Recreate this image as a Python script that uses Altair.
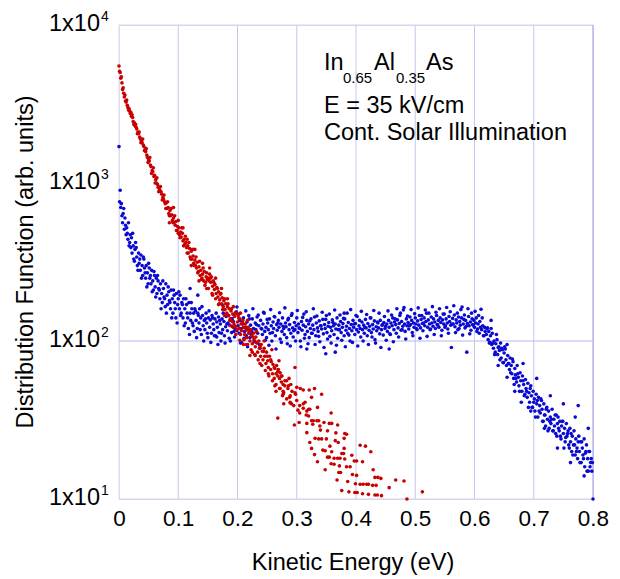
import altair as alt
import pandas as pd

# ---------------- data (energy in meV, distribution in arb. units) ----------------
blue_points = [
    (0, 1700), (1, 760), (3, 700), (4, 740), (6, 560), (7, 640), (9, 510), (10, 600), (12, 470), (13, 520),
    (15, 440), (16, 560), (18, 420), (19, 470), (20, 390), (21, 450), (22, 360), (24, 400), (25, 330), (27, 380),
    (28, 420), (30, 340), (31, 300), (33, 360), (34, 310), (36, 280), (37, 350), (39, 300), (40, 260), (42, 330),
    (43, 290), (45, 250), (46, 300), (48, 270), (49, 230), (51, 290), (52, 250), (54, 230), (55, 280), (57, 240),
    (58, 210), (60, 260), (61, 220), (63, 250), (64, 200), (66, 240), (67, 215), (69, 185), (70, 230), (72, 200),
    (73, 175), (75, 215), (76, 190), (78, 165), (79, 230), (81, 195), (82, 170), (84, 205), (85, 180), (87, 160),
    (88, 210), (90, 185), (91, 150), (93, 195), (94, 175), (96, 140), (97, 200), (99, 170), (100, 185),
    (102, 160), (103, 195), (105, 150), (106, 175), (108, 140), (109, 185), (111, 160), (112, 130), (114, 170),
    (115, 150), (117, 120), (118, 175), (120, 150), (121, 135), (123, 160), (124, 130), (126, 150), (127, 115),
    (129, 155), (130, 135), (132, 120), (133, 150), (135, 130), (136, 160), (138, 140), (139, 110), (141, 145),
    (142, 125), (144, 135), (145, 118), (147, 150), (148, 130), (150, 105), (151, 140), (153, 122), (154, 136),
    (156, 112), (157, 145), (159, 128), (160, 118), (162, 138), (163, 108), (165, 132), (166, 122), (168, 142),
    (169, 113), (171, 128), (172, 100), (174, 138), (175, 118), (177, 133), (178, 108), (180, 123), (181, 143),
    (183, 116), (184, 130), (186, 104), (187, 126), (189, 138), (190, 113), (192, 123), (193, 133), (195, 106),
    (196, 120), (198, 153), (199, 116), (133, 195), (120, 215), (174, 170), (199, 164), (165, 106),
    (201, 125), (203, 112), (204, 135), (206, 120), (207, 98), (209, 128), (210, 140), (212, 115), (213, 122),
    (215, 108), (216, 132), (218, 118), (219, 145), (221, 105), (222, 126), (224, 115), (225, 138), (227, 120),
    (228, 100), (230, 130), (231, 118), (233, 142), (234, 112), (236, 125), (237, 95), (239, 135), (240, 120),
    (242, 110), (243, 128), (245, 150), (246, 115), (248, 122), (249, 105), (251, 130), (252, 118), (254, 138),
    (255, 112), (257, 125), (258, 100), (260, 132), (261, 120), (263, 142), (264, 108), (266, 127), (267, 117),
    (269, 135), (270, 122), (272, 103), (273, 128), (275, 115), (276, 140), (278, 120), (279, 110), (281, 130),
    (282, 123), (284, 96), (285, 136), (287, 118), (288, 127), (290, 112), (291, 145), (293, 121), (294, 106),
    (296, 131), (297, 118), (299, 125), (300, 140), (302, 113), (303, 128), (305, 120), (306, 100), (308, 133),
    (309, 117), (311, 126), (312, 148), (314, 110), (315, 123), (317, 135), (318, 115), (320, 128), (321, 105),
    (323, 120), (324, 138), (326, 112), (327, 126), (329, 118), (330, 142), (332, 108), (333, 130), (335, 121),
    (336, 115), (338, 134), (339, 99), (341, 125), (342, 119), (344, 137), (345, 111), (347, 127), (348, 120),
    (350, 145), (351, 113), (353, 124), (354, 131), (356, 107), (357, 122), (359, 116), (360, 136), (362, 125),
    (363, 110), (365, 128), (366, 119), (368, 140), (369, 104), (371, 126), (372, 118), (374, 133), (375, 113),
    (377, 122), (378, 129), (380, 108), (381, 138), (383, 117), (384, 124), (386, 112), (387, 131), (389, 120),
    (390, 100), (392, 127), (393, 116), (395, 135), (396, 122), (398, 110), (399, 129), (401, 118), (402, 143),
    (404, 114), (405, 125), (407, 120), (408, 106), (410, 132), (411, 118), (413, 126), (414, 112), (416, 137),
    (417, 121), (419, 108), (420, 129), (422, 117), (423, 124), (425, 140), (426, 113), (428, 127), (429, 119),
    (431, 134), (432, 102), (434, 123), (435, 116), (437, 130), (438, 121), (440, 111), (441, 135), (443, 118),
    (444, 126), (446, 109), (447, 131), (449, 120), (450, 124), (317, 89), (349, 83), (365, 85), (456, 89),
    (380, 150),
    (452, 128), (453, 115), (455, 135), (456, 122), (458, 110), (459, 130), (461, 125), (462, 140), (464, 118),
    (465, 132), (467, 127), (468, 112), (470, 136), (471, 121), (473, 129), (474, 145), (476, 117), (477, 133),
    (479, 124), (480, 157), (482, 128), (483, 115), (485, 138), (486, 125), (488, 131), (489, 119), (491, 142),
    (492, 127), (494, 135), (495, 113), (497, 130), (498, 122), (500, 140), (501, 128), (503, 118), (504, 134),
    (506, 126), (507, 145), (509, 121), (510, 137), (512, 129), (513, 116), (515, 140), (516, 125), (518, 133),
    (519, 150), (521, 122), (522, 136), (524, 128), (525, 118), (527, 142), (528, 130), (530, 124), (531, 138),
    (533, 132), (534, 120), (536, 145), (537, 127), (539, 135), (540, 122), (542, 140), (543, 131), (545, 117),
    (546, 136), (548, 128), (549, 148), (551, 125), (552, 138), (554, 130), (555, 119), (557, 143), (558, 133),
    (560, 126), (561, 91), (563, 139), (564, 128), (566, 146), (567, 123), (569, 136), (570, 130), (572, 118),
    (573, 142), (575, 133), (576, 126), (578, 140), (579, 164), (581, 128), (582, 137), (584, 121), (585, 135),
    (587, 85), (588, 129), (590, 143), (591, 125), (593, 132), (594, 117), (596, 138), (597, 127), (599, 135),
    (600, 122), (602, 130), (603, 140), (605, 119), (606, 128), (608, 112), (609, 133), (611, 159), (612, 118),
    (614, 125), (615, 108), (617, 122), (618, 115),
    (620, 110), (621, 120), (623, 102), (624, 115), (626, 98), (627, 108), (629, 95), (630, 112), (632, 90),
    (633, 100), (635, 85), (636, 96), (638, 102), (639, 82), (641, 92), (642, 87), (644, 97), (645, 78),
    (647, 88), (648, 73), (650, 84), (651, 92), (653, 76), (654, 70), (656, 81), (657, 72), (659, 66), (660, 78),
    (662, 70), (663, 62), (665, 74), (666, 58), (668, 67), (669, 61), (671, 55), (672, 70), (674, 59), (675, 52),
    (677, 63), (678, 56), (680, 48), (681, 60), (683, 53), (684, 45), (686, 57), (687, 50), (689, 44), (690, 54),
    (692, 47), (693, 41), (695, 52), (696, 45), (698, 38), (699, 48), (701, 43), (702, 36), (704, 46), (705, 40),
    (707, 33), (708, 44), (710, 39), (711, 35), (713, 42), (714, 37), (716, 31), (717, 40), (719, 34), (720, 29),
    (722, 38), (723, 32), (725, 36), (726, 28), (728, 33), (729, 30), (731, 37), (732, 27), (734, 32), (735, 29),
    (737, 26), (738, 34), (740, 30), (741, 33), (743, 27), (744, 31), (746, 24), (747, 29), (749, 31), (750, 26),
    (752, 28), (753, 23), (755, 30), (756, 25), (758, 27), (759, 22), (761, 28), (762, 23), (764, 20), (765, 25),
    (767, 22), (768, 27), (770, 19), (771, 24), (773, 21), (774, 18), (775, 39), (776, 25), (777, 20), (779, 23),
    (780, 17), (782, 21), (783, 19), (785, 24), (786, 16), (788, 20), (789, 22), (791, 18), (792, 15), (794, 20),
    (795, 16), (797, 18), (798, 15), (800, 10),
]

# a second, interleaved run of the blue data (wider scatter)
blue_points_run2 = [
    (2, 900), (5, 620), (8, 690), (11, 540), (14, 480), (17, 400), (23, 480), (26, 320), (29, 390), (32, 280),
    (35, 330), (38, 250), (41, 340), (44, 270), (47, 220), (50, 310), (53, 260), (56, 205), (59, 275), (62, 190),
    (65, 260), (68, 210), (71, 160), (74, 240), (77, 185), (80, 150), (83, 220), (86, 175), (89, 140), (92, 210),
    (95, 160), (98, 130), (101, 205), (104, 145), (107, 170), (110, 125), (113, 185), (116, 140), (119, 110),
    (122, 175), (125, 125), (128, 160), (131, 105), (134, 145), (137, 118), (140, 165), (143, 100), (146, 138),
    (149, 112), (152, 155), (155, 98), (158, 140), (161, 108), (164, 150), (167, 95), (170, 135), (173, 112),
    (176, 150), (179, 97), (182, 128), (185, 145), (188, 100), (191, 138), (194, 115), (197, 150),
    (202, 148), (205, 97), (208, 133), (211, 104), (214, 155), (217, 92), (220, 138), (223, 110), (226, 160),
    (229, 99), (232, 127), (235, 146), (238, 90), (241, 119), (244, 152), (247, 101), (250, 137), (253, 94),
    (256, 158), (259, 113), (262, 143), (265, 89), (268, 130), (271, 151), (274, 98), (277, 124), (280, 162),
    (283, 105), (286, 139), (289, 93), (292, 149), (295, 116), (298, 100), (301, 156), (304, 121), (307, 92),
    (310, 141), (313, 104), (316, 153), (319, 96), (322, 134), (325, 112), (328, 160), (331, 95), (334, 144),
    (337, 107), (340, 125), (343, 152), (346, 91), (349, 137), (352, 103), (355, 148), (358, 97), (361, 131),
    (364, 157), (367, 94), (370, 118), (373, 146), (376, 101), (379, 139), (382, 92), (385, 150), (388, 109),
    (391, 158), (394, 98), (397, 128), (400, 145), (403, 93), (406, 135), (409, 154), (412, 100), (415, 122),
    (418, 147), (421, 95), (424, 140), (427, 106), (430, 156), (433, 97), (436, 132), (439, 150), (442, 91),
    (445, 127), (448, 143), (451, 101), (454, 155), (457, 111), (460, 146), (463, 99), (466, 138), (469, 160),
    (472, 106), (475, 150), (478, 118), (481, 163), (484, 103), (487, 144), (490, 125), (493, 158), (496, 108),
    (499, 149), (502, 120), (505, 162), (508, 104), (511, 145), (514, 130), (517, 157), (520, 107), (523, 150),
    (526, 119), (529, 165), (532, 110), (535, 152), (538, 126), (541, 160), (544, 108), (547, 148), (550, 122),
    (553, 163), (556, 112), (559, 153), (562, 128), (565, 167), (568, 113), (571, 150), (574, 120), (577, 158),
    (580, 109), (583, 146), (586, 124), (589, 160), (592, 111), (595, 150), (598, 126), (601, 154), (604, 115),
    (607, 145), (610, 122), (613, 140), (616, 108),
    (622, 121), (625, 97), (628, 120), (631, 97), (634, 82), (637, 110), (640, 91), (643, 76), (646, 90),
    (649, 73), (652, 89), (655, 59), (658, 72), (661, 63), (664, 77), (667, 53), (670, 58), (673, 62), (676, 48),
    (679, 41), (682, 56), (685, 46), (688, 48), (691, 38), (694, 50), (697, 38), (700, 41), (703, 33), (706, 42),
    (709, 36), (712, 43), (715, 31), (718, 34), (721, 37), (724, 27), (727, 31), (730, 32), (733, 27), (736, 34),
    (739, 25), (742, 28), (745, 25), (748, 31), (751, 21), (754, 24.5), (757, 26), (760, 21), (763, 26), (766, 19),
    (769, 22), (772, 20), (775, 23), (778, 17), (781, 23), (784, 18), (787, 19.5), (790, 15), (793, 20), (796, 17),
    (799, 17),
    (628, 135), (640, 70), (655, 95), (668, 48), (682, 72), (695, 36), (705, 58), (718, 28), (728, 45),
    (740, 21), (750, 40), (762, 17), (770, 33), (785, 14), (792, 28),
]

red_points = [
    (0, 5500), (2, 5000), (3, 4600), (5, 4300), (6, 3900), (8, 3700), (9, 3500), (11, 3300), (12, 3250),
    (14, 3100), (15, 3000), (17, 2950), (18, 2850), (20, 2800), (21, 2650), (23, 2600), (24, 2450), (26, 2400),
    (27, 2300), (29, 2250), (30, 2200), (32, 2100), (33, 2050), (35, 1950), (36, 1900), (38, 1850), (39, 1800),
    (41, 1740), (42, 1700), (44, 1620), (45, 1580), (47, 1500), (48, 1450), (50, 1400), (51, 1380), (53, 1300),
    (54, 1270), (56, 1200), (57, 1180), (59, 1100), (60, 1120), (62, 1050), (63, 1000), (65, 980), (66, 940),
    (68, 920), (69, 900), (71, 880), (72, 850), (74, 810), (75, 790), (77, 760), (78, 740), (80, 750), (81, 690),
    (83, 700), (84, 640), (86, 670), (87, 620), (89, 630), (90, 580), (92, 600), (93, 560), (95, 540), (96, 570),
    (98, 500), (99, 530), (101, 520), (102, 470), (104, 490), (105, 455), (107, 480), (108, 430), (110, 440),
    (111, 410), (113, 420), (114, 390), (116, 400), (117, 360), (119, 385), (120, 340), (122, 370), (123, 330),
    (125, 345), (126, 310), (128, 325), (129, 300), (131, 290), (132, 315), (134, 275), (135, 295), (137, 260),
    (138, 280), (140, 250), (141, 265), (143, 240), (144, 275), (146, 235), (147, 255), (149, 245),
    (150, 250), (152, 240), (153, 265), (155, 235), (156, 255), (158, 222), (159, 240), (161, 212), (162, 228),
    (164, 200), (165, 218), (167, 190), (168, 205), (170, 182), (171, 198), (173, 172), (174, 188), (176, 165),
    (177, 180), (179, 158), (180, 172), (182, 150), (183, 165), (185, 145), (186, 160), (188, 138), (189, 155),
    (191, 133), (192, 148), (194, 128), (195, 143), (197, 124), (198, 150), (200, 132), (201, 145), (203, 120),
    (204, 138), (206, 128), (207, 116), (209, 135), (210, 122), (212, 110), (213, 128), (215, 118), (216, 105),
    (218, 122), (219, 112), (221, 100), (222, 118), (224, 108), (225, 96), (227, 112), (228, 102), (230, 92),
    (231, 106), (233, 97), (234, 85), (236, 100), (237, 90), (239, 80), (240, 95), (242, 86), (243, 76),
    (245, 90), (246, 80), (248, 72), (249, 85), (251, 75), (252, 68), (254, 80), (256, 66), (257, 74), (259, 62),
    (260, 71), (262, 58), (263, 67), (204, 101), (215, 95), (221, 81), (230, 81),
    (265, 62), (266, 70), (268, 60), (269, 66), (271, 58), (272, 63), (274, 55), (275, 60), (277, 53), (280, 52),
    (283, 56), (285, 50), (287, 58), (290, 53), (297, 68),
    (265, 48), (272, 50), (277, 48), (278, 47), (289, 45), (288, 44), (297, 47), (300, 51), (306, 50), (311, 49),
    (321, 49), (330, 50), (342, 46), (278, 40), (289, 40.5), (291, 40), (300, 42), (305, 39), (311, 40),
    (314, 41), (325, 44), (335, 38), (302, 36.5), (305, 35), (311, 37.5), (317, 36), (320, 37), (322, 37),
    (316, 34), (320, 33.5), (358, 35), (268, 32.5), (296, 29.4), (304, 30.5), (317, 30.1), (325, 31.3),
    (328, 31.3), (334, 31.3), (337, 31.3), (327, 29.7), (339, 29), (346, 30.5), (355, 30.1), (359, 30.1),
    (369, 29.4), (340, 27.3), (352, 27), (366, 26.2), (381, 26), (384, 25.7), (317, 26.3), (331, 24.2),
    (337, 24), (342, 24), (350, 24), (365, 23.4), (370, 22.8), (380, 24.2), (322, 22.8), (356, 21.6),
    (325, 20.9), (344, 20.4), (348, 20.2), (359, 19.9), (376, 19.4), (379, 19.4), (380, 20.9), (407, 21.9),
    (416, 21.6), (425, 19.9), (330, 19.1), (352, 18.4), (355, 18.4), (363, 18.1), (369, 18.1), (373, 18.1),
    (381, 17.9), (393, 18.9), (397, 17.4), (401, 17.4), (411, 17.2), (335, 17.2), (358, 16.7), (363, 16.6),
    (372, 16.2), (384, 16), (390, 16), (348, 15.3), (371, 14.7), (374, 14.7), (394, 14.3), (401, 14.1),
    (429, 15.3), (432, 13.7), (437, 13.7), (442, 13.5), (467, 13.2), (481, 13), (368, 13.2), (386, 12.9),
    (399, 12.5), (407, 12.4), (412, 12.4), (418, 12.4), (421, 12.4), (428, 12.2), (434, 12.2), (376, 11.3),
    (388, 11.1), (398, 11), (402, 11), (411, 10.8), (421, 10.7), (432, 10.6), (436, 10.6), (443, 10.5),
    (456, 11.8), (486, 10), (512, 11.1),
]

# a second, interleaved run of the red data
red_points_run2 = [
    (1, 5100), (4, 4700), (7, 4000), (10, 3600), (13, 3350), (16, 2900), (19, 2750), (22, 2700), (25, 2350),
    (28, 2350), (31, 2050), (34, 2100), (37, 1800), (40, 1900), (43, 1600), (46, 1650), (49, 1350), (52, 1450),
    (55, 1150), (58, 1250), (61, 1000), (64, 1080), (67, 880), (70, 950), (73, 780), (76, 840), (79, 690),
    (82, 760), (85, 620), (88, 690), (91, 560), (94, 620), (97, 500), (100, 580), (103, 450), (106, 520),
    (109, 400), (112, 460), (115, 360), (118, 420), (121, 330), (124, 380), (127, 300), (130, 340), (133, 270),
    (136, 320), (139, 245), (142, 290), (145, 225), (148, 270), (151, 215), (154, 250), (157, 200), (160, 235),
    (163, 185), (166, 215), (169, 172), (172, 200), (175, 158), (178, 185), (181, 145), (184, 172), (187, 135),
    (190, 160), (193, 122), (196, 150), (199, 118), (202, 140), (205, 110), (208, 130), (211, 102), (214, 122),
    (217, 95), (220, 115), (223, 88), (226, 106), (229, 82), (232, 98), (235, 76), (238, 92), (241, 70),
    (244, 86), (247, 65), (250, 80), (253, 60), (256, 76), (259, 56), (262, 68), (265, 53), (268, 64),
    (271, 50), (274, 60), (277, 46), (280, 56), (283, 43), (286, 52), (289, 41), (292, 48), (295, 39), (298, 46),
    (85, 560), (92, 700), (100, 480), (108, 520), (115, 440), (122, 300), (128, 380), (135, 240), (141, 310),
    (148, 215), (153, 290), (158, 195), (163, 250), (168, 170), (173, 215), (178, 145), (183, 185), (188, 125),
    (193, 165), (197, 110), (205, 150), (210, 95), (217, 135), (225, 85), (232, 115), (238, 72), (245, 100),
    (252, 62), (258, 88), (263, 52), (270, 75), (276, 45),
]

x_ticks = [0, 0.1, 0.2, 0.3, 0.4, 0.5, 0.6, 0.7, 0.8]
x_grid = [0.1, 0.2, 0.3, 0.4, 0.5, 0.6, 0.7]
y_ticks = [10, 100, 1000, 10000]
y_tick_base = ["1x10", "1x10", "1x10", "1x10"]
y_tick_exp = ["1", "2", "3", "4"]

x_title = "Kinetic Energy (eV)"
y_title = "Distribution Function (arb. units)"
note_line2 = "E = 35 kV/cm"
note_line3 = "Cont. Solar Illumination"

# ---------------- build tables ----------------
blue_all = blue_points + blue_points_run2
red_all = red_points + red_points_run2
blue_df = pd.DataFrame({"energy": [p[0] / 1000 for p in blue_all], "f": [p[1] for p in blue_all]})
red_df = pd.DataFrame({"energy": [p[0] / 1000 for p in red_all], "f": [p[1] for p in red_all]})

W, H = 474, 474
FONT = "Liberation Sans"
xs = alt.Scale(domain=[0, 0.8], nice=False, zero=False)
ys = alt.Scale(type="log", domain=[10, 10000], nice=False)
GRID = "#c6c6f2"

XAXIS = alt.Axis(values=x_ticks, format="~g", labelFont=FONT, labelFontSize=22.5,
                 labelColor="black", ticks=False, tickSize=0, domain=False, grid=False,
                 labelPadding=8, labelFlush=False, labelOverlap=False, title=None)


def xenc(field):
    return alt.X(field, type="quantitative", scale=xs, axis=XAXIS)


def yenc(field):
    return alt.Y(field, type="quantitative", scale=ys, axis=None)


vgrid = alt.Chart(pd.DataFrame({"g": x_grid})).mark_rule(color=GRID, strokeWidth=1).encode(
    x=xenc("g"), y=alt.value(0), y2=alt.value(H))
left_edge = alt.Chart(pd.DataFrame({"g": [0]})).mark_rule(color="#dcdcf8", strokeWidth=1).encode(
    x=xenc("g"), y=alt.value(0), y2=alt.value(H))
right_edge = alt.Chart(pd.DataFrame({"g": [0.8]})).mark_rule(color="#a8a8ee", strokeWidth=1.2).encode(
    x=xenc("g"), y=alt.value(0), y2=alt.value(H))
hgrid = alt.Chart(pd.DataFrame({"v": [100]})).mark_rule(color="#b8b8f0", strokeWidth=1).encode(
    y=yenc("v"), x=alt.value(0), x2=alt.value(W))
hframe = alt.Chart(pd.DataFrame({"v": [10, 10000]})).mark_rule(color="#d0d0f6", strokeWidth=1).encode(
    y=yenc("v"), x=alt.value(0), x2=alt.value(W))

blue = alt.Chart(blue_df).mark_circle(size=13, opacity=1, color="#0a0ad0").encode(
    x=xenc("energy"), y=yenc("f"))
red = alt.Chart(red_df).mark_circle(size=13, opacity=1, color="#c80000").encode(
    x=xenc("energy"), y=yenc("f"))

ylab_df = pd.DataFrame({"v": y_ticks, "b": y_tick_base, "e": y_tick_exp})
ylab_base = alt.Chart(ylab_df).mark_text(align="right", baseline="alphabetic", dy=6, font=FONT,
                                          fontSize=23.5, color="black").encode(
    y=yenc("v"), x=alt.value(-19), text="b:N")
ylab_exp = alt.Chart(ylab_df).mark_text(align="left", baseline="alphabetic", dy=-4, font=FONT,
                                         fontSize=14, color="black").encode(
    y=yenc("v"), x=alt.value(-18), text="e:N")

xt = alt.Chart(pd.DataFrame({"t": [x_title]})).mark_text(
    align="center", baseline="alphabetic", font=FONT, fontSize=23.5, color="black").encode(
    text="t:N", x=alt.value(W / 2 - 3), y=alt.value(545))
yt = alt.Chart(pd.DataFrame({"t": [y_title]})).mark_text(
    align="center", baseline="alphabetic", angle=270, font=FONT, fontSize=23.5, color="black").encode(
    text="t:N", x=alt.value(-86), y=alt.value(H / 2))


def note(txt, x, y, size):
    return alt.Chart(pd.DataFrame({"t": [txt]})).mark_text(
        align="left", baseline="alphabetic", font=FONT, fontSize=size, color="black").encode(
        text="t:N", x=alt.value(x), y=alt.value(y))


notes = [
    note("In", 205, 45, 23.5), note("0.65", 224, 58, 15), note("Al", 255, 45, 23.5),
    note("0.35", 277, 58, 15), note("As", 307, 45, 23.5),
    note(note_line2, 205, 88, 23.5), note(note_line3, 205, 115, 23.5),
]

chart = alt.layer(
    vgrid, left_edge, hgrid, hframe, right_edge, blue, red, ylab_base, ylab_exp, xt, yt, *notes
).properties(
    width=W, height=H,
    autosize=alt.AutoSizeParams(type="none"),
    padding={"left": 119, "top": 25, "right": 27, "bottom": 80},
).configure_view(stroke=None).configure(font=FONT, background="white")

chart.save("out.html", embed_options={"renderer": "svg", "actions": False})
